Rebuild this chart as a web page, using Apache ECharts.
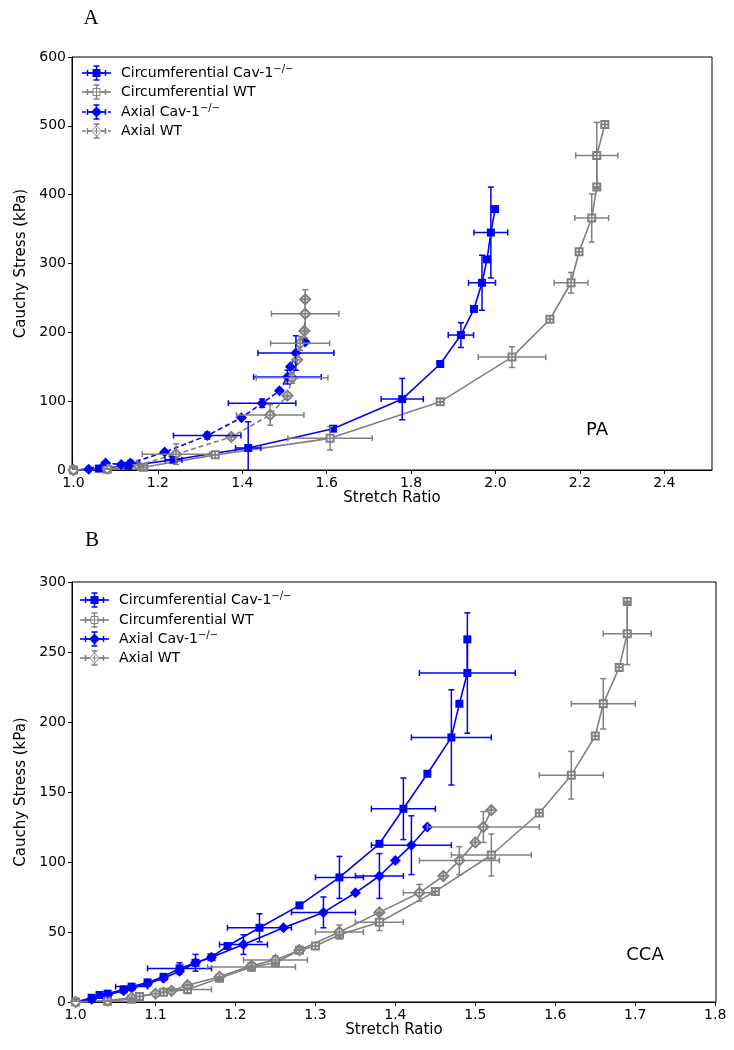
<!DOCTYPE html>
<html><head><meta charset="utf-8">
<script src="https://cdn.jsdelivr.net/npm/echarts@6/dist/echarts.min.js"></script>
<style>html,body{margin:0;padding:0;background:#fff}#c{width:734px;height:1050px}</style>
</head><body><div id="c"></div>
<script>
// ---------- Panel A (PA) data ----------
const paCircCavX    = [1.0, 1.06, 1.13, 1.237, 1.414, 1.615, 1.779, 1.869, 1.918, 1.949, 1.968, 1.980, 1.989, 1.999];
const paCircCavY    = [0, 2, 6, 15, 32, 60, 103, 154, 196, 234, 272, 306, 345, 379];
const paCircCavXErr = [0, 0, 0, 0.02, 0.03, 0, 0.05, 0, 0.03, 0, 0.032, 0, 0.04, 0];
const paCircCavYErr = [0, 0, 0, 4, 38, 0, 30, 0, 18, 0, 40, 0, 66, 0];

const paCircWTX    = [1.0, 1.08, 1.166, 1.336, 1.608, 1.869, 2.039, 2.129, 2.179, 2.198, 2.228, 2.240, 2.240, 2.259];
const paCircWTY    = [0, 1, 4, 22, 46, 99, 164, 219, 272, 317, 366, 411, 457, 502];
const paCircWTXErr = [0, 0, 0.01, 0, 0.10, 0, 0.08, 0, 0.04, 0, 0.04, 0, 0.05, 0];
const paCircWTYErr = [0, 0, 3, 0, 17, 0, 15, 0, 15, 0, 35, 0, 48, 0];

const paAxCavX    = [1.0, 1.036, 1.076, 1.113, 1.135, 1.216, 1.317, 1.398, 1.447, 1.488, 1.507, 1.514, 1.527, 1.549];
const paAxCavY    = [0, 1, 10, 8, 10, 26, 50, 76, 97, 115, 135, 150, 170, 186];
const paAxCavXErr = [0, 0, 0, 0, 0.02, 0, 0.08, 0, 0.08, 0, 0.08, 0, 0.09, 0];
const paAxCavYErr = [0, 0, 0, 0, 4, 0, 5, 0, 6, 0, 10, 0, 25, 0];

const paAxWTX    = [1.0, 1.08, 1.153, 1.243, 1.374, 1.466, 1.507, 1.518, 1.530, 1.537, 1.547, 1.549, 1.549];
const paAxWTY    = [0, 2, 7, 23, 48, 80, 108, 134, 160, 184, 202, 227, 248];
const paAxWTXErr = [0, 0, 0, 0.08, 0, 0.08, 0, 0.085, 0, 0.07, 0, 0.08, 0];
const paAxWTYErr = [0, 0, 0, 15, 0, 15, 0, 8, 0, 10, 0, 35, 0];

// ---------- Panel B (CCA) data ----------
const ccaCircCavX    = [1.0, 1.02, 1.03, 1.04, 1.06, 1.07, 1.09, 1.11, 1.13, 1.15, 1.17, 1.19, 1.23, 1.28, 1.33, 1.38, 1.41, 1.44, 1.47, 1.48, 1.49, 1.49];
const ccaCircCavY    = [0, 3, 5, 6, 9, 11, 14, 18, 24, 28, 32, 40, 53, 69, 89, 113, 138, 163, 189, 213, 235, 259];
const ccaCircCavXErr = [0, 0, 0, 0, 0, 0.02, 0, 0, 0.04, 0, 0, 0, 0.04, 0, 0.03, 0, 0.04, 0, 0.05, 0, 0.06, 0];
const ccaCircCavYErr = [0, 0, 0, 0, 0, 2, 0, 0, 4, 0, 0, 0, 10, 0, 15, 0, 22, 0, 34, 0, 43, 0];

const ccaAxCavX    = [1.0, 1.02, 1.04, 1.06, 1.07, 1.09, 1.11, 1.13, 1.15, 1.17, 1.21, 1.26, 1.31, 1.35, 1.38, 1.40, 1.42, 1.44];
const ccaAxCavY    = [0, 2, 5, 8, 10, 13, 17, 22, 28, 32, 41, 53, 64, 78, 90, 101, 112, 125];
const ccaAxCavXErr = [0, 0, 0, 0, 0, 0, 0, 0, 0, 0, 0.03, 0, 0.04, 0, 0.03, 0, 0.05, 0];
const ccaAxCavYErr = [0, 0, 0, 0, 0, 0, 0, 0, 6, 0, 7, 0, 11, 0, 16, 0, 21, 0];

const ccaCircWTX    = [1.0, 1.04, 1.07, 1.08, 1.11, 1.14, 1.18, 1.22, 1.25, 1.28, 1.30, 1.33, 1.38, 1.45, 1.52, 1.58, 1.62, 1.65, 1.66, 1.68, 1.69, 1.69];
const ccaCircWTY    = [0, 0.5, 2, 4, 7, 9, 17, 25, 28, 37, 40, 48, 57, 79, 105, 135, 162, 190, 213, 239, 263, 286];
const ccaCircWTXErr = [0, 0, 0, 0, 0, 0.03, 0, 0.055, 0, 0, 0, 0, 0.03, 0, 0.05, 0, 0.04, 0, 0.04, 0, 0.03, 0];
const ccaCircWTYErr = [0, 0, 0, 0, 0, 3, 0, 3, 0, 0, 0, 0, 6, 0, 15, 0, 17, 0, 18, 0, 22, 0];

const ccaAxWTX    = [1.0, 1.04, 1.07, 1.10, 1.12, 1.14, 1.18, 1.22, 1.25, 1.28, 1.33, 1.38, 1.43, 1.46, 1.48, 1.50, 1.51, 1.52];
const ccaAxWTY    = [0, 1, 3, 6, 8, 12, 18, 26, 30, 37, 50, 64, 78, 90, 101, 114, 125, 137];
const ccaAxWTXErr = [0, 0, 0, 0, 0, 0, 0, 0, 0.04, 0, 0.03, 0, 0.02, 0, 0.05, 0, 0.07, 0];
const ccaAxWTYErr = [0, 0, 0, 0, 0, 0, 0, 0, 3, 0, 5, 0, 6, 0, 10, 0, 11, 0];

// ---------- tick labels ----------
const paXTicks  = [1.0, 1.2, 1.4, 1.6, 1.8, 2.0, 2.2, 2.4];
const ccaXTicks = [1.0, 1.1, 1.2, 1.3, 1.4, 1.5, 1.6, 1.7, 1.8];

const legendNames = ['Circumferential Cav-1', 'Circumferential WT', 'Axial Cav-1', 'Axial WT'];
const legendSup   = ['−/−', '', '−/−', ''];

// ---------- styling ----------
const BLUE = '#0000ff', GRAY = '#808080';
const FONT = 'DejaVu Sans';

function pts(xs, ys) { return xs.map((x, i) => [x, ys[i]]); }
function errPts(xs, ys, ex, ey) { return xs.map((x, i) => [x, ys[i], ex[i], ey[i]]); }

function errRender(color, cap) {
  return function (params, api) {
    const x = api.value(0), y = api.value(1), ex = api.value(2), ey = api.value(3);
    const c = api.coord([x, y]);
    const l = api.coord([x - ex, y]), r = api.coord([x + ex, y]);
    const t = api.coord([x, y + ey]), b = api.coord([x, y - ey]);
    const st = { stroke: color, lineWidth: 1.5 };
    const ch = [];
    if (ex > 0) ch.push({ type: 'line', shape: { x1: l[0], y1: c[1], x2: r[0], y2: c[1] }, style: st });
    if (ey > 0) ch.push({ type: 'line', shape: { x1: c[0], y1: t[1], x2: c[0], y2: b[1] }, style: st });
    ch.push({ type: 'line', shape: { x1: l[0], y1: c[1] - cap, x2: l[0], y2: c[1] + cap }, style: st });
    ch.push({ type: 'line', shape: { x1: r[0], y1: c[1] - cap, x2: r[0], y2: c[1] + cap }, style: st });
    ch.push({ type: 'line', shape: { x1: c[0] - cap, y1: t[1], x2: c[0] + cap, y2: t[1] }, style: st });
    ch.push({ type: 'line', shape: { x1: c[0] - cap, y1: b[1], x2: c[0] + cap, y2: b[1] }, style: st });
    return { type: 'group', children: ch };
  };
}

function makeSeries(name, gi, xs, ys, ex, ey, color, symbol, size, dashed) {
  const open = symbol.indexOf('empty') === 0;
  return [{
    name: name, type: 'line', xAxisIndex: gi, yAxisIndex: gi,
    data: pts(xs, ys), symbol: symbol, symbolSize: size, showSymbol: true,
    lineStyle: { color: color, width: 1.6, type: dashed ? [5, 3] : 'solid' },
    itemStyle: open ? { color: color, borderColor: color, borderWidth: 1 } : { color: color, borderWidth: 0 },
    z: 2, animation: false, emphasis: { disabled: true }
  }, {
    name: name, type: 'custom', xAxisIndex: gi, yAxisIndex: gi,
    data: errPts(xs, ys, ex, ey), encode: { x: 0, y: 1 },
    renderItem: errRender(color, 3), clip: true, z: 3, animation: false, silent: true
  }];
}

const series = [].concat(
  makeSeries('Circumferential Cav-1 (PA)', 0, paCircCavX, paCircCavY, paCircCavXErr, paCircCavYErr, BLUE, 'rect', 8, false),
  makeSeries('Circumferential WT (PA)', 0, paCircWTX, paCircWTY, paCircWTXErr, paCircWTYErr, GRAY, 'emptyRect', 7, false),
  makeSeries('Axial Cav-1 (PA)', 0, paAxCavX, paAxCavY, paAxCavXErr, paAxCavYErr, BLUE, 'diamond', 11, true),
  makeSeries('Axial WT (PA)', 0, paAxWTX, paAxWTY, paAxWTXErr, paAxWTYErr, GRAY, 'emptyDiamond', 10, true),
  makeSeries('Circumferential Cav-1 (CCA)', 1, ccaCircCavX, ccaCircCavY, ccaCircCavXErr, ccaCircCavYErr, BLUE, 'rect', 8, false),
  makeSeries('Circumferential WT (CCA)', 1, ccaCircWTX, ccaCircWTY, ccaCircWTXErr, ccaCircWTYErr, GRAY, 'emptyRect', 7, false),
  makeSeries('Axial Cav-1 (CCA)', 1, ccaAxCavX, ccaAxCavY, ccaAxCavXErr, ccaAxCavYErr, BLUE, 'diamond', 11, false),
  makeSeries('Axial WT (CCA)', 1, ccaAxWTX, ccaAxWTY, ccaAxWTXErr, ccaAxWTYErr, GRAY, 'emptyDiamond', 10, false)
);

function xAxisDef(gi, min, max, ticks, gap) {
  return {
    type: 'value', gridIndex: gi, min: min, max: max,
    name: 'Stretch Ratio', nameLocation: 'middle', nameGap: gap,
    nameTextStyle: { color: '#000', fontSize: 15, fontFamily: FONT },
    axisLine: { show: true, lineStyle: { color: '#000', width: 1 } },
    axisTick: { show: true, inside: false, length: 4, customValues: ticks, lineStyle: { color: '#000' } },
    axisLabel: { customValues: ticks, color: '#000', fontSize: 14, fontFamily: FONT, margin: 6,
      formatter: v => v.toFixed(1) },
    splitLine: { show: false }
  };
}
function yAxisDef(gi, max, interval, gap) {
  return {
    type: 'value', gridIndex: gi, min: 0, max: max, interval: interval,
    name: 'Cauchy Stress (kPa)', nameLocation: 'middle', nameGap: gap, nameRotate: 90,
    nameTextStyle: { color: '#000', fontSize: 15, fontFamily: FONT },
    axisLine: { show: true, lineStyle: { color: '#000', width: 1 } },
    axisTick: { show: true, inside: false, length: 4, lineStyle: { color: '#000' } },
    axisLabel: { color: '#000', fontSize: 14, fontFamily: FONT, margin: 6 },
    splitLine: { show: false }
  };
}

// ---------- legend (drawn as graphics) ----------
function legendGraphics(x0, y0s, dashedRows) {
  const els = [];
  const styles = [
    { color: BLUE, marker: 'rect', open: false },
    { color: GRAY, marker: 'rect', open: true },
    { color: BLUE, marker: 'diamond', open: false },
    { color: GRAY, marker: 'diamond', open: true }
  ];
  y0s.forEach((cy, i) => {
    const s = styles[i];
    const cx = x0 + 14.5;
    const dashed = dashedRows[i];
    const es = { stroke: s.color, lineWidth: 1.5 };
    els.push({ type: 'line', z: 100, shape: { x1: x0, y1: cy, x2: x0 + 29, y2: cy },
      style: { stroke: s.color, lineWidth: 1.6, lineDash: dashed ? [4, 2.5] : null } });
    els.push({ type: 'line', z: 100, shape: { x1: cx - 9, y1: cy, x2: cx + 9, y2: cy }, style: es });
    els.push({ type: 'line', z: 100, shape: { x1: cx - 9, y1: cy - 3, x2: cx - 9, y2: cy + 3 }, style: es });
    els.push({ type: 'line', z: 100, shape: { x1: cx + 9, y1: cy - 3, x2: cx + 9, y2: cy + 3 }, style: es });
    els.push({ type: 'line', z: 100, shape: { x1: cx, y1: cy - 7, x2: cx, y2: cy + 7 }, style: es });
    els.push({ type: 'line', z: 100, shape: { x1: cx - 3, y1: cy - 7, x2: cx + 3, y2: cy - 7 }, style: es });
    els.push({ type: 'line', z: 100, shape: { x1: cx - 3, y1: cy + 7, x2: cx + 3, y2: cy + 7 }, style: es });
    const mst = s.open ? { fill: '#fff', stroke: s.color, lineWidth: 1 } : { fill: s.color };
    if (s.marker === 'rect') {
      const h = s.open ? 3.5 : 4;
      els.push({ type: 'rect', z: 101, shape: { x: cx - h, y: cy - h, width: 2 * h, height: 2 * h }, style: mst });
    } else {
      const h = s.open ? 5 : 5.5;
      els.push({ type: 'polygon', z: 101, shape: { points: [[cx, cy - h], [cx + h, cy], [cx, cy + h], [cx - h, cy]] }, style: mst });
    }
    if (s.open) {
      els.push({ type: 'line', z: 102, shape: { x1: cx - 3, y1: cy, x2: cx + 3, y2: cy }, style: { stroke: s.color, lineWidth: 1 } });
      els.push({ type: 'line', z: 102, shape: { x1: cx, y1: cy - 3, x2: cx, y2: cy + 3 }, style: { stroke: s.color, lineWidth: 1 } });
    }
    const txt = legendSup[i] ? '{n|' + legendNames[i] + '}{s|' + legendSup[i] + '}' : '{n|' + legendNames[i] + '}';
    els.push({ type: 'text', z: 100, x: x0 + 39, y: cy, style: {
      text: txt, verticalAlign: 'middle', align: 'left',
      rich: {
        n: { fontSize: 14, fontFamily: FONT, fill: '#000', lineHeight: 17 },
        s: { fontSize: 10, fontFamily: FONT, fill: '#000', lineHeight: 17, verticalAlign: 'top' }
      } } });
  });
  return els;
}

const graphics = [].concat(
  legendGraphics(82, [73, 92, 112, 131], [false, false, true, true]),
  legendGraphics(80, [600, 620, 639, 658], [false, false, false, false]),
  [
    { type: 'text', x: 91, y: 18, z: 100, style: { text: 'A', font: '21px "Liberation Serif"', fill: '#000', align: 'center', verticalAlign: 'middle' } },
    { type: 'text', x: 92, y: 540, z: 100, style: { text: 'B', font: '21px "Liberation Serif"', fill: '#000', align: 'center', verticalAlign: 'middle' } },
    { type: 'text', x: 597, y: 430, z: 100, style: { text: 'PA', font: '18px "DejaVu Sans"', fill: '#000', align: 'center', verticalAlign: 'middle' } },
    { type: 'text', x: 645, y: 955, z: 100, style: { text: 'CCA', font: '18px "DejaVu Sans"', fill: '#000', align: 'center', verticalAlign: 'middle' } }
  ]
);

const chart = echarts.init(document.getElementById('c'), null, { renderer: 'canvas' });
chart.setOption({
  animation: false,
  backgroundColor: '#fff',
  textStyle: { fontFamily: FONT },
  grid: [
    { left: 72, top: 57, width: 640, height: 413, show: true, borderColor: '#000', borderWidth: 1, backgroundColor: 'transparent', outerBoundsMode: 'none' },
    { left: 72, top: 582, width: 644, height: 420, show: true, borderColor: '#000', borderWidth: 1, backgroundColor: 'transparent', outerBoundsMode: 'none' }
  ],
  xAxis: [xAxisDef(0, 0.9965, 2.513, paXTicks, 12), xAxisDef(1, 0.9955, 1.801, ccaXTicks, 20)],
  yAxis: [yAxisDef(0, 600, 100, 40), yAxisDef(1, 300, 50, 42)],
  tooltip: { show: false },
  series: series,
  graphic: { elements: graphics }
});
</script></body></html>
